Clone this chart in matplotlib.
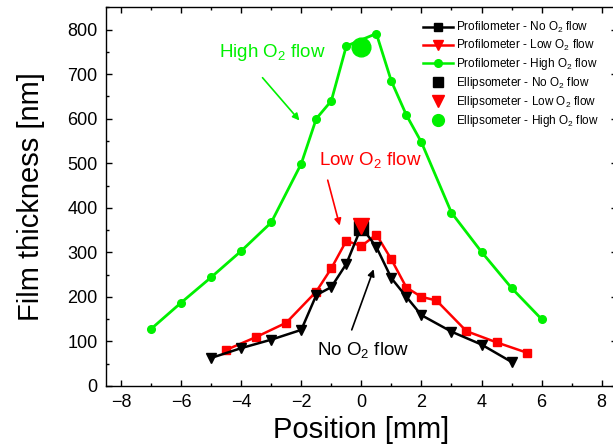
import matplotlib
matplotlib.use("Agg")
import matplotlib.pyplot as plt
from matplotlib.lines import Line2D
from matplotlib.ticker import MultipleLocator

plt.rcParams['font.family'] = ['Liberation Sans', 'DejaVu Sans']
plt.rcParams['mathtext.fontset'] = 'custom'
plt.rcParams['mathtext.rm'] = 'Liberation Sans'
plt.rcParams['mathtext.it'] = 'Liberation Sans'
plt.rcParams['mathtext.default'] = 'regular'

GREEN = '#00f000'
RED = '#ff0000'
BLACK = '#000000'

# Profilometer scans (position in mm, thickness in nm)
no_flow_x = [-5, -4, -3, -2, -1.5, -1, -0.5, 0, 0.5, 1, 1.5, 2, 3, 4, 5]
no_flow_y = [63, 85, 104, 126, 204, 222, 274, 357, 312, 242, 200, 159, 122, 93, 54]

low_flow_x = [-4.5, -3.5, -2.5, -1.5, -1, -0.5, 0, 0.5, 1, 1.5, 2, 2.5, 3.5, 4.5, 5.5]
low_flow_y = [81, 110, 142, 212, 264, 326, 314, 340, 284, 221, 200, 192, 123, 98, 75]

high_flow_x = [-7, -6, -5, -4, -3, -2, -1.5, -1, -0.5, 0.5, 1, 1.5, 2, 3, 4, 5, 6]
high_flow_y = [128, 187, 244, 303, 367, 499, 600, 640, 763, 791, 684, 608, 547, 389, 301, 220, 150]

# Ellipsometer reference points at the centre
ell_x = [0]
ell_no_y = [355]
ell_low_y = [359]
ell_high_y = [760]

legend_labels = [
    r'Profilometer - No O$_2$ flow',
    r'Profilometer - Low O$_2$ flow',
    r'Profilometer - High O$_2$ flow',
    r'Ellipsometer - No O$_2$ flow',
    r'Ellipsometer - Low O$_2$ flow',
    r'Ellipsometer - High O$_2$ flow',
]

fig = plt.figure(figsize=(6.13, 4.47), dpi=100)
ax = fig.add_axes([106 / 613, 61 / 447, 510.7 / 613, 378.7 / 447])

ax.plot(high_flow_x, high_flow_y, color=GREEN, lw=2.0, marker='o', ms=5.5, zorder=3)
ax.plot(low_flow_x, low_flow_y, color=RED, lw=1.8, marker='s', ms=6, zorder=3)
ax.plot(no_flow_x, no_flow_y, color=BLACK, lw=1.8, marker='v', ms=6.5, zorder=4)

ax.plot(ell_x, ell_no_y, ls='none', marker='s', ms=10.5, color=BLACK, zorder=5)
ax.plot(ell_x, ell_low_y, ls='none', marker='v', ms=12, color=RED, zorder=6)
ax.plot(ell_x, ell_high_y, ls='none', marker='o', ms=13.5, color=GREEN, zorder=5)

ax.set_xlim(-8.5, 8.5)
ax.set_ylim(0, 850)
ax.xaxis.set_major_locator(MultipleLocator(2))
ax.xaxis.set_minor_locator(MultipleLocator(1))
ax.yaxis.set_major_locator(MultipleLocator(100))
ax.yaxis.set_minor_locator(MultipleLocator(50))
ax.tick_params(which='both', direction='in', top=True, right=True, width=1.0)
ax.tick_params(which='major', length=4.2, labelsize=13, pad=6)
ax.tick_params(which='minor', length=2.2)
for s in ax.spines.values():
    s.set_linewidth(1.0)

ax.set_xlabel('Position [mm]', fontsize=21, labelpad=3)
ax.set_ylabel('Film thickness [nm]', fontsize=21, labelpad=16)

handles = [
    Line2D([], [], color=BLACK, lw=1.8, marker='s', ms=6),
    Line2D([], [], color=RED, lw=1.8, marker='v', ms=6.5),
    Line2D([], [], color=GREEN, lw=1.8, marker='o', ms=5.5),
    Line2D([], [], ls='none', color=BLACK, marker='s', ms=7.5),
    Line2D([], [], ls='none', color=RED, marker='v', ms=9),
    Line2D([], [], ls='none', color=GREEN, marker='o', ms=8.5),
]
ax.legend(handles, legend_labels, loc='upper left', bbox_to_anchor=(0.62, 0.967),
          frameon=False, fontsize=8.5, handlelength=2.6, handletextpad=0.25,
          labelspacing=0.25, borderaxespad=0.0, borderpad=0.0)

# Callout labels with arrows pointing at each curve
ax.text(-2.96, 749, r'High O$_2$ flow', color=GREEN, fontsize=13.5,
        ha='center', va='center')
ax.annotate('', xy=(-2.06, 596), xytext=(-3.29, 692),
            arrowprops=dict(arrowstyle='-|>', color=GREEN, lw=1.2,
                            mutation_scale=10, shrinkA=0, shrinkB=0))

ax.text(0.29, 507, r'Low O$_2$ flow', color=RED, fontsize=13.5,
        ha='center', va='center')
ax.annotate('', xy=(-0.72, 360), xytext=(-1.12, 462),
            arrowprops=dict(arrowstyle='-|>', color=RED, lw=1.2,
                            mutation_scale=10, shrinkA=0, shrinkB=0))

ax.text(-1.46, 81, r'No O$_2$ flow', color=BLACK, fontsize=13.5,
        ha='left', va='center')
ax.annotate('', xy=(0.41, 262), xytext=(-0.32, 126),
            arrowprops=dict(arrowstyle='-|>', color=BLACK, lw=1.2,
                            mutation_scale=10, shrinkA=0, shrinkB=0))

fig.savefig('out.png', dpi=100)
